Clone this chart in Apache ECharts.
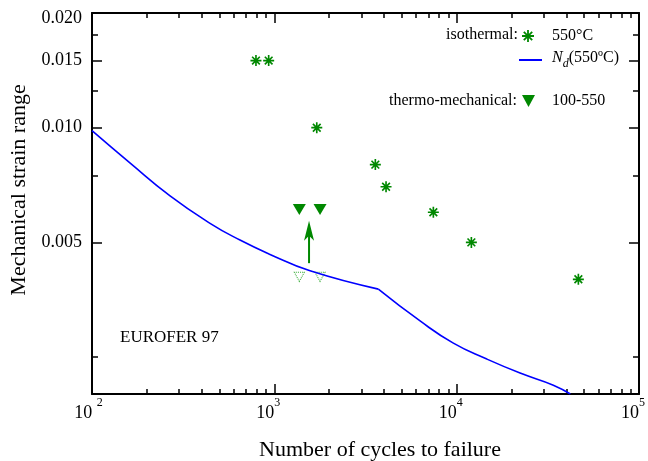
<!DOCTYPE html>
<html><head><meta charset="utf-8">
<script src="https://cdn.jsdelivr.net/npm/echarts@6/dist/echarts.min.js"></script>
<style>html,body{margin:0;padding:0;background:#fff}#c{width:648px;height:461px}</style>
</head><body><div id="c"></div>
<script>
// ---- data ----
const isoCycles = [793, 931, 1709, 3581, 4099, 7450, 12040, 46500];
const isoStrain = [0.015, 0.015, 0.010, 0.008, 0.007, 0.006, 0.005, 0.004];
const tmCycles = [1371, 1781];
const tmStrain = [0.0061, 0.0061];
const tmOldStrain = [0.00406, 0.00406];
const arrowCycles = [1550, 1550];
const arrowStrain = [0.00441, 0.0055];
const arrowTipStrain = [0.0057];
const ndCycles = [100, 162, 268, 444, 648, 947, 1570, 3720, 6300, 9590, 14630, 22270, 33900, 42000];
const ndStrain = [0.00982, 0.00807, 0.00662, 0.00561, 0.00507, 0.00465, 0.00421, 0.00377, 0.00311, 0.00272, 0.00247, 0.00227, 0.00211, 0.002];
const ndKinkIndex = 7;
const xMajor = [100, 1000, 10000, 100000];
const xMinor = [200, 300, 400, 500, 600, 700, 800, 900, 2000, 3000, 4000, 5000, 6000, 7000, 8000, 9000, 20000, 30000, 40000, 50000, 60000, 70000, 80000, 90000];
const yMajor = [0.005, 0.010, 0.015, 0.020];
const yMinor = [0.0025, 0.0075, 0.0125, 0.0175];

const FONT = '"Liberation Serif", "Times New Roman", serif';
const green = '#008800';
const blue = '#0000ff';
const asterisk = 'path://M-1.5,-10L1.5,-10L1.5,10L-1.5,10Z M-10,-1.5L10,-1.5L10,1.5L-10,1.5Z M-5.94,-8.06L8.06,5.94L5.94,8.06L-8.06,-5.94Z M-8.06,5.94L5.94,-8.06L8.06,-5.94L-5.94,8.06Z';
const downTriangle = 'path://M0,0L13,0L6.5,12Z';

const zip = (a, b) => a.map((v, i) => [v, b[i]]);

function xAxisDef(pos, ticks, len, showLine, showLabel) {
  return {
    type: 'log', logBase: 10, min: 100, max: 100000, position: pos, gridIndex: 0,
    axisLine: { show: showLine, onZero: false, lineStyle: { color: '#000', width: 2 } },
    axisTick: { show: true, inside: true, length: len, customValues: ticks, lineStyle: { color: '#000', width: 1.5 } },
    axisLabel: showLabel ? {
      show: true, customValues: xMajor, margin: 3, fontFamily: FONT, fontSize: 18, color: '#000',
      formatter: v => {
        const e = Math.round(Math.log10(v));
        return e === 2 ? '{b|10} {s|' + e + '}{p|}' : '{b|10}{s|' + e + '}{q|}';
      },
      rich: {
        b: { fontFamily: FONT, fontSize: 18, color: '#000', padding: [7, 0, 0, 0], verticalAlign: 'bottom' },
        s: { fontFamily: FONT, fontSize: 12, color: '#000', verticalAlign: 'top' },
        p: { width: 7 },
        q: { width: 12 }
      }
    } : { show: false },
    splitLine: { show: false }, minorTick: { show: false }
  };
}
function yAxisDef(pos, ticks, len, showLine, showLabel) {
  return {
    type: 'log', logBase: 10, min: 0.002, max: 0.02, position: pos, gridIndex: 0,
    axisLine: { show: showLine, onZero: false, lineStyle: { color: '#000', width: 2 } },
    axisTick: { show: true, inside: true, length: len, customValues: ticks, lineStyle: { color: '#000', width: 1.5 } },
    axisLabel: showLabel ? {
      show: true, customValues: yMajor, margin: 10, fontFamily: FONT, fontSize: 18, color: '#000',
      formatter: v => (v > 0.019 ? '{t|' + v.toFixed(3) + '}' : v.toFixed(3)),
      rich: { t: { fontFamily: FONT, fontSize: 18, color: '#000', padding: [11, 0, 0, 0] } }
    } : { show: false },
    splitLine: { show: false }, minorTick: { show: false }
  };
}

const legendText = { fontFamily: FONT, fontSize: 16, color: '#000' };

const chart = echarts.init(document.getElementById('c'), null, { renderer: 'canvas' });
chart.setOption({
  animation: false,
  backgroundColor: '#fff',
  grid: { left: 92, right: 9, top: 13, bottom: 67, outerBoundsMode: 'none', containLabel: false },
  xAxis: [
    xAxisDef('bottom', xMajor, 10, true, true),
    xAxisDef('bottom', xMinor, 5, false, false),
    xAxisDef('top', xMajor, 10, true, false),
    xAxisDef('top', xMinor, 5, false, false)
  ],
  yAxis: [
    yAxisDef('left', yMajor, 10, true, true),
    yAxisDef('left', yMinor, 6, false, false),
    yAxisDef('right', yMajor, 10, true, false),
    yAxisDef('right', yMinor, 6, false, false)
  ],
  legend: [
    { data: [{ name: 'isothermal', icon: asterisk }], left: 522, top: 28, padding: 0, itemWidth: 12, itemHeight: 12, selectedMode: false,
      formatter: () => '550°C', textStyle: Object.assign({ padding: [0, 0, 0, 13] }, legendText) },
    { data: [{ name: 'Nd', icon: 'rect' }], left: 519, top: 50, padding: 0, itemWidth: 23, itemHeight: 2, selectedMode: false,
      formatter: () => '{i|N}{d|d}{t|(550ºC)}',
      textStyle: { fontFamily: FONT, fontSize: 16, color: '#000', padding: [0, 0, 0, 5],
        rich: { i: { fontFamily: FONT, fontSize: 16, fontStyle: 'italic', color: '#000', verticalAlign: 'top' },
                d: { fontFamily: FONT, fontSize: 12, fontStyle: 'italic', color: '#000', verticalAlign: 'bottom', padding: [8, 0, 0, 0] },
                t: { fontFamily: FONT, fontSize: 16, color: '#000', verticalAlign: 'top' } } } },
    { data: [{ name: 'thermo', icon: downTriangle }], left: 522, top: 93, padding: 0, itemWidth: 13, itemHeight: 12, selectedMode: false,
      formatter: () => '100-550', textStyle: Object.assign({ padding: [0, 0, 0, 12] }, legendText) }
  ],
  graphic: [
    { type: 'text', x: 518, y: 35, style: { text: 'isothermal:', textAlign: 'right', textVerticalAlign: 'middle', font: '16px ' + FONT, fill: '#000' } },
    { type: 'text', x: 517, y: 101, style: { text: 'thermo-mechanical:', textAlign: 'right', textVerticalAlign: 'middle', font: '16px ' + FONT, fill: '#000' } },
    { type: 'text', x: 120, y: 338, style: { text: 'EUROFER 97', textAlign: 'left', textVerticalAlign: 'middle', font: '17px ' + FONT, fill: '#000' } },
    { type: 'text', x: 380, y: 450, style: { text: 'Number of cycles to failure', textAlign: 'center', textVerticalAlign: 'middle', font: '22px ' + FONT, fill: '#000' } },
    { type: 'text', x: 19, y: 190, rotation: Math.PI / 2, style: { text: 'Mechanical strain range', textAlign: 'center', textVerticalAlign: 'middle', font: '22px ' + FONT, fill: '#000' } }
  ],
  series: [
    { name: 'Nd', type: 'line', xAxisIndex: 0, yAxisIndex: 0, symbol: 'none', smooth: 0.5,
      data: zip(ndCycles, ndStrain).slice(0, ndKinkIndex + 1), lineStyle: { color: blue, width: 1.6 }, itemStyle: { color: blue } },
    { name: 'Nd2', type: 'line', xAxisIndex: 0, yAxisIndex: 0, symbol: 'none', smooth: 0.5,
      data: zip(ndCycles, ndStrain).slice(ndKinkIndex), lineStyle: { color: blue, width: 1.6 }, itemStyle: { color: blue } },
    { name: 'isothermal', type: 'scatter', xAxisIndex: 0, yAxisIndex: 0, symbol: asterisk, symbolSize: 11,
      data: zip(isoCycles, isoStrain), itemStyle: { color: green, opacity: 1 } },
    { name: 'thermo', type: 'scatter', xAxisIndex: 0, yAxisIndex: 0, symbol: 'triangle', symbolRotate: 180, symbolSize: [13, 11],
      data: zip(tmCycles, tmStrain), itemStyle: { color: green, opacity: 1 } },
    { name: 'thermoBefore', type: 'scatter', xAxisIndex: 0, yAxisIndex: 0, symbol: 'triangle', symbolRotate: 180, symbolSize: [10, 9],
      data: zip(tmCycles, tmOldStrain), itemStyle: { color: 'rgba(0,0,0,0)', borderColor: '#33aa33', borderWidth: 1, borderType: 'dotted', opacity: 1 } },
    { name: 'shift', type: 'line', xAxisIndex: 0, yAxisIndex: 0, symbol: 'none',
      data: zip(arrowCycles, arrowStrain), lineStyle: { color: green, width: 2 } },
    { name: 'shiftHead', type: 'scatter', xAxisIndex: 0, yAxisIndex: 0, symbol: 'arrow', symbolSize: [7.5, 20],
      data: zip([arrowCycles[0]], arrowTipStrain), itemStyle: { color: green, opacity: 1 } }
  ]
});
</script></body></html>
